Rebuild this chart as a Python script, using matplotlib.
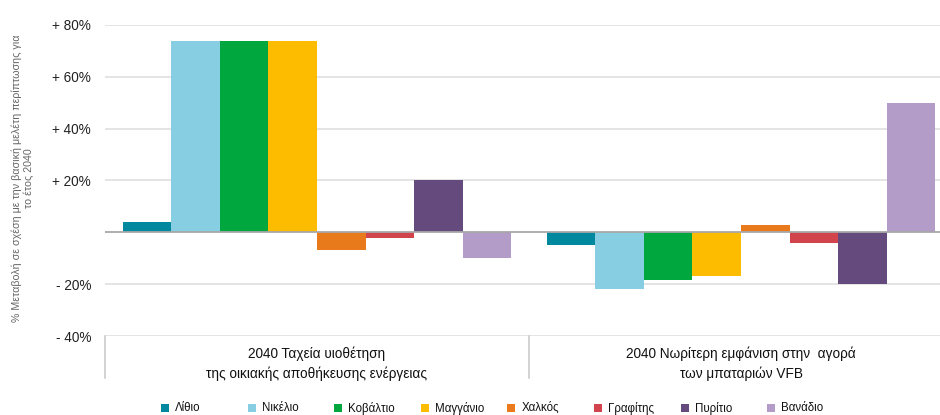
import matplotlib
matplotlib.use("Agg")
import matplotlib.pyplot as plt
import numpy as np
from matplotlib.patches import Rectangle

# Scenario groups and mineral series
scenarios = ["2040 Ταχεία υιοθέτηση\nτης οικιακής αποθήκευσης ενέργειας",
             "2040 Νωρίτερη εμφάνιση στην  αγορά\nτων μπαταριών VFB"]
minerals = ["Λίθιο", "Νικέλιο", "Κοβάλτιο", "Μαγγάνιο", "Χαλκός", "Γραφίτης", "Πυρίτιο", "Βανάδιο"]
colors = ["#00889E", "#87CEE2", "#00A63E", "#FDBC00", "#E87A1B", "#D2444B", "#654A7E", "#B49CC8"]

# % change vs. the base case for 2040, per scenario
values_fast_home_storage = [4, 74, 74, 74, -7, -2, 20, -10]
values_early_vfb = [-5, -22, -18.5, -17, 3, -4, -20, 50]

yticks = [-40, -20, 20, 40, 60, 80]
ytick_labels = ["- 40%", "- 20%", "+ 20%", "+ 40%", "+ 60%", "+ 80%"]
ylabel = "% Μεταβολή σε σχέση με την βασική μελέτη περίπτωσης για\nτο έτος 2040"

narrow = ["Liberation Sans Narrow", "Liberation Sans", "DejaVu Sans"]
plt.rcParams["font.family"] = ["Liberation Sans", "DejaVu Sans"]

fig = plt.figure(figsize=(9.4, 4.15), dpi=100)
W, H = 940, 415
ax_left, ax_right, ax_bot, ax_top = 105, 953, 336, 25
ax = fig.add_axes([ax_left / W, (H - ax_bot) / H, (ax_right - ax_left) / W, (ax_bot - ax_top) / H])

data = np.array([values_fast_home_storage, values_early_vfb])
n = len(minerals)
group_span = 0.916
bw = group_span / n
x = np.arange(len(scenarios))
for i, (name, c) in enumerate(zip(minerals, colors)):
    offs = -group_span / 2 + bw * (i + 0.5)
    ax.bar(x + offs, data[:, i], width=bw, color=c, linewidth=0, label=name, zorder=3)

ax.set_xlim(-0.5, len(scenarios) - 0.5)
ax.set_ylim(-40, 80)
ax.set_yticks(yticks)
ax.set_yticklabels(ytick_labels, fontsize=9.8, color="#222222")
ax.tick_params(axis="y", length=0, pad=10)
ax.tick_params(axis="x", length=0, labelbottom=False)
ax.grid(axis="y", color="#dcdcdc", linewidth=1.1, zorder=0)
ax.axhline(0, color="#a8a8a8", linewidth=1.3, zorder=4)
for s in ax.spines.values():
    s.set_visible(False)

# Category box under the plot
trans = ax.get_xaxis_transform()
box_depth = -(378 - ax_bot) / (ax_bot - ax_top)
for xv in [-0.5, 0.5, 1.5]:
    ax.plot([xv, xv], [0, box_depth], transform=trans, color="#c8c8c8", linewidth=1.1, clip_on=False)
for xi, lab in zip(x, scenarios):
    ax.text(xi, -(346 - ax_bot) / (ax_bot - ax_top), lab, transform=trans, ha="center", va="top",
            fontsize=9.8, family=narrow, color="#111111", linespacing=1.55)

fig.text(23 / W, 1 - 178 / H, ylabel, rotation=90, ha="center", va="center",
         fontsize=7.7, color="#666666", family=narrow, linespacing=1.25)

# Legend row
leg_x0, leg_dx, leg_y = 165, 86.6, 408
for i, (name, c) in enumerate(zip(minerals, colors)):
    lx = leg_x0 + i * leg_dx
    fig.patches.append(Rectangle(((lx - 4) / W, 1 - (leg_y + 4) / H), 8 / W, 8 / H,
                                 transform=fig.transFigure, facecolor=c, edgecolor="none"))
    fig.text((lx + 10) / W, 1 - leg_y / H, name, ha="left", va="center", fontsize=8.3,
             family=narrow, color="#111111")

fig.savefig("out.png", dpi=100)
